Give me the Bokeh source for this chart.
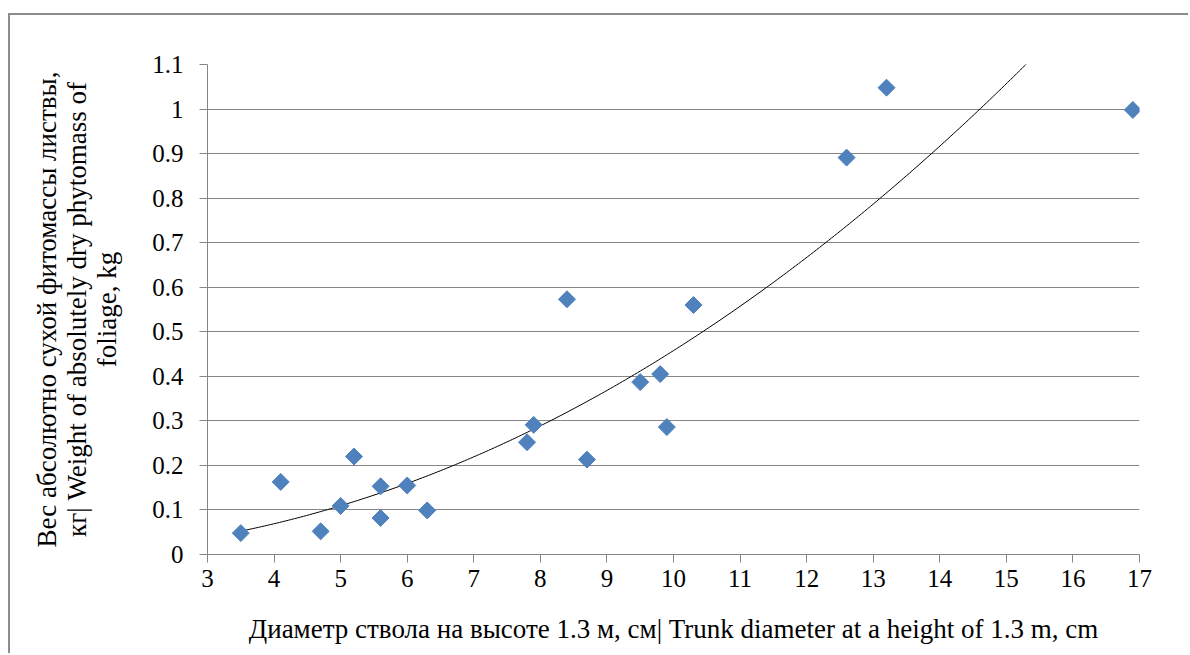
import numpy as np
from bokeh.plotting import figure
from bokeh.models import Range1d, FixedTicker, ColumnDataSource
from bokeh.embed import file_html
from bokeh.resources import INLINE

# Data
diameter = [3.5, 4.1, 4.7, 5.0, 5.2, 5.6, 5.6, 6.0, 6.3, 7.8, 7.9, 8.4, 8.7, 9.5, 9.8, 9.9, 10.3, 12.6, 13.2, 16.9]
foliage = [0.048, 0.163, 0.052, 0.109, 0.220, 0.153, 0.082, 0.155, 0.099, 0.252, 0.291, 0.573, 0.213, 0.387, 0.405, 0.286, 0.560, 0.891, 1.048, 0.998]
# Power trendline y = a * x^b
trend_a = 0.00395
trend_b = 2.064
x_ticks = [3, 4, 5, 6, 7, 8, 9, 10, 11, 12, 13, 14, 15, 16, 17]
y_ticks = [0, 0.1, 0.2, 0.3, 0.4, 0.5, 0.6, 0.7, 0.8, 0.9, 1.0, 1.1]
y_tick_labels = ["0", "0.1", "0.2", "0.3", "0.4", "0.5", "0.6", "0.7", "0.8", "0.9", "1", "1.1"]
x_title = "Диаметр ствола на высоте 1.3 м, см| Trunk diameter at a height of 1.3 m, cm"
y_title_lines = ["Вес абсолютно сухой фитомассы листвы,",
                 "кг| Weight of absolutely dry phytomass of",
                 "foliage, kg"]

FONT = "Liberation Serif"
GRAY = "#868686"

p = figure(width=1180, height=640, output_backend="svg", toolbar_location=None,
           x_range=Range1d(3, 17), y_range=Range1d(0, 1.1),
           min_border_left=197, min_border_right=51, min_border_top=49, min_border_bottom=101)
p.styles = {"border-top": "2px solid #8c8c8c", "border-left": "2px solid #8c8c8c",
            "position": "relative", "left": "8px", "top": "13px"}
p.outline_line_color = None
p.background_fill_color = "white"
p.border_fill_color = "white"

tx = np.linspace(min(diameter), max(diameter), 300)
ty = trend_a * tx ** trend_b
p.line(tx, ty, line_color="black", line_width=1)

src = ColumnDataSource(dict(x=diameter, y=foliage))
p.scatter("x", "y", source=src, marker="square", size=12, angle=np.pi / 4,
          fill_color="#4F81BD", line_color="#4F81BD")

p.xgrid.grid_line_color = None
p.ygrid.grid_line_color = GRAY
p.ygrid.grid_line_width = 1

p.xaxis.ticker = FixedTicker(ticks=x_ticks)
p.yaxis.ticker = FixedTicker(ticks=y_ticks)
p.yaxis.major_label_overrides = {t: l for t, l in zip(y_ticks, y_tick_labels)}
for ax in (p.xaxis, p.yaxis):
    ax.axis_line_color = GRAY
    ax.major_tick_line_color = GRAY
    ax.major_tick_out = 8
    ax.major_tick_in = 0
    ax.minor_tick_line_color = None
    ax.major_label_text_font = FONT
    ax.major_label_text_font_size = "25px"
    ax.major_label_text_color = "black"
    ax.axis_label_text_font = FONT
    ax.axis_label_text_font_size = "27px"
    ax.axis_label_text_font_style = "normal"
    ax.axis_label_text_color = "black"
p.xaxis.major_label_standoff = 7
p.yaxis.major_label_standoff = 16

p.xaxis.axis_label = x_title
p.xaxis.axis_label_standoff = 24

p.yaxis.axis_label = "\n".join(y_title_lines)
p.yaxis.axis_label_standoff = 27
p.yaxis.axis_label_text_line_height = 1.0

open("out.html", "w").write(file_html(p, INLINE))
